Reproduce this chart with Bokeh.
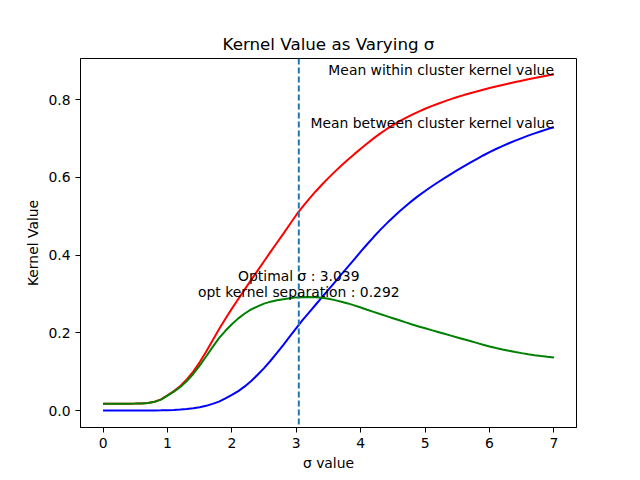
from bokeh.plotting import figure
from bokeh.models import ColumnDataSource, Span, Label, FixedTicker, PrintfTickFormatter, Range1d
from bokeh.embed import file_html
from bokeh.resources import INLINE

# sigma grid 0.0 .. 7.0 in steps of 0.1
sigma = [round(i * 0.1, 1) for i in range(71)]
within = [0.0175, 0.0175, 0.0175, 0.0175, 0.0176, 0.0178, 0.0183, 0.0195, 0.0225, 0.0285,
          0.039, 0.050, 0.063, 0.080, 0.100, 0.124, 0.151, 0.180, 0.209, 0.236,
          0.262, 0.287, 0.3115, 0.336, 0.360, 0.384, 0.408, 0.4315, 0.455, 0.479,
          0.503, 0.5245, 0.5445, 0.5635, 0.5815, 0.5985, 0.6145, 0.630, 0.645, 0.6595,
          0.6735, 0.687, 0.700, 0.7122, 0.7236, 0.7342, 0.744, 0.753, 0.7613, 0.769,
          0.7762, 0.7829, 0.7892, 0.7952, 0.8009, 0.8063, 0.8114, 0.8162, 0.8208, 0.8252,
          0.8294, 0.8334, 0.8373, 0.8411, 0.8448, 0.8484, 0.8519, 0.8553, 0.8586, 0.8618,
          0.8649]
between = [0.0, 0.0, 0.0, 0.0, 0.0, 0.0, 0.0, 0.0, 0.0002, 0.0004,
           0.0008, 0.0015, 0.0025, 0.004, 0.006, 0.0085, 0.012, 0.017, 0.023, 0.031,
           0.040, 0.050, 0.062, 0.076, 0.092, 0.109, 0.128, 0.148, 0.169, 0.1905,
           0.212, 0.233, 0.2525, 0.272, 0.2915, 0.311, 0.3305, 0.350, 0.3695, 0.389,
           0.4085, 0.4277, 0.4462, 0.4639, 0.4807, 0.4967, 0.5119, 0.5263, 0.5399, 0.5527,
           0.5647, 0.5762, 0.5872, 0.5979, 0.6083, 0.6183, 0.6281, 0.6376, 0.6469, 0.656,
           0.6647, 0.6727, 0.6803, 0.6875, 0.6943, 0.7008, 0.707, 0.7129, 0.7185, 0.7238,
           0.7288]
separation = [0.0175, 0.0175, 0.0175, 0.0175, 0.0176, 0.0178, 0.0183, 0.0195, 0.0223, 0.0281,
              0.0382, 0.0485, 0.0605, 0.076, 0.094, 0.1155, 0.139, 0.163, 0.186, 0.205,
              0.222, 0.237, 0.2495, 0.260, 0.268, 0.275, 0.280, 0.2835, 0.286, 0.2885,
              0.291, 0.2915, 0.292, 0.2915, 0.290, 0.2875, 0.284, 0.280, 0.2755, 0.2705,
              0.265, 0.2593, 0.2538, 0.2483, 0.2429, 0.2375, 0.2321, 0.2267, 0.2214, 0.2163,
              0.2115, 0.2067, 0.202, 0.1973, 0.1926, 0.188, 0.1833, 0.1786, 0.1739, 0.1692,
              0.1647, 0.1607, 0.157, 0.1536, 0.1505, 0.1476, 0.1449, 0.1424, 0.1401, 0.138,
              0.1361]
opt_sigma = 3.039
opt_sep = 0.292
x_ticks = [0, 1, 2, 3, 4, 5, 6, 7]
y_ticks = [0.0, 0.2, 0.4, 0.6, 0.8]

FONT = "DejaVu Sans"
TS = "13.9px"

src = ColumnDataSource(dict(sigma=sigma, within=within, between=between, separation=separation))

p = figure(width=640, height=480, output_backend="svg", toolbar_location=None,
           x_range=Range1d(-0.35, 7.35), y_range=Range1d(-0.0437, 0.9055),
           min_border_left=80, min_border_right=64, min_border_top=58, min_border_bottom=53,
           title="Kernel Value as Varying σ")
p.title.align = "center"
p.title.text_font = FONT
p.title.text_font_size = "16.7px"
p.title.text_font_style = "normal"
p.title.text_color = "black"

p.line("sigma", "within", source=src, color="red", line_width=2)
p.line("sigma", "between", source=src, color="blue", line_width=2)
p.line("sigma", "separation", source=src, color="green", line_width=2)

p.add_layout(Span(location=opt_sigma, dimension="height", line_color="#1f77b4",
                  line_dash="6 3", line_width=2))

p.add_layout(Label(x=sigma[-1], y=within[-1] + 0.012, text="Mean within cluster kernel value",
                   text_align="right", text_baseline="alphabetic", text_font=FONT,
                   text_font_size=TS, text_color="black"))
p.add_layout(Label(x=sigma[-1], y=between[-1] + 0.012, text="Mean between cluster kernel value",
                   text_align="right", text_baseline="alphabetic", text_font=FONT,
                   text_font_size=TS, text_color="black"))
p.add_layout(Label(x=opt_sigma, y=opt_sep + 0.053, text="Optimal σ : %.3f" % opt_sigma,
                   text_align="center", text_baseline="alphabetic", text_font=FONT,
                   text_font_size=TS, text_color="black"))
p.add_layout(Label(x=opt_sigma, y=opt_sep + 0.012, text="opt kernel separation : %.3f" % opt_sep,
                   text_align="center", text_baseline="alphabetic", text_font=FONT,
                   text_font_size=TS, text_color="black"))

p.xaxis.axis_label = "σ value"
p.yaxis.axis_label = "Kernel Value"
p.xaxis.ticker = FixedTicker(ticks=x_ticks)
p.yaxis.ticker = FixedTicker(ticks=y_ticks)
p.yaxis.formatter = PrintfTickFormatter(format="%.1f")
for ax in (p.xaxis[0], p.yaxis[0]):
    ax.axis_label_text_font = FONT
    ax.axis_label_text_font_size = TS
    ax.axis_label_text_font_style = "normal"
    ax.axis_label_text_color = "black"
    ax.major_label_text_font = FONT
    ax.major_label_text_font_size = TS
    ax.major_label_text_color = "black"
    ax.axis_line_color = "black"
    ax.major_tick_line_color = "black"
    ax.major_tick_out = 5
    ax.major_tick_in = 0
    ax.minor_tick_line_color = None
p.xaxis.axis_label_standoff = 4
p.yaxis.axis_label_standoff = 4
p.yaxis.major_label_orientation = "horizontal"
p.xgrid.visible = False
p.ygrid.visible = False
p.outline_line_color = "black"
p.outline_line_alpha = 1.0
p.outline_line_width = 1

open("out.html", "w").write(file_html(p, INLINE))
